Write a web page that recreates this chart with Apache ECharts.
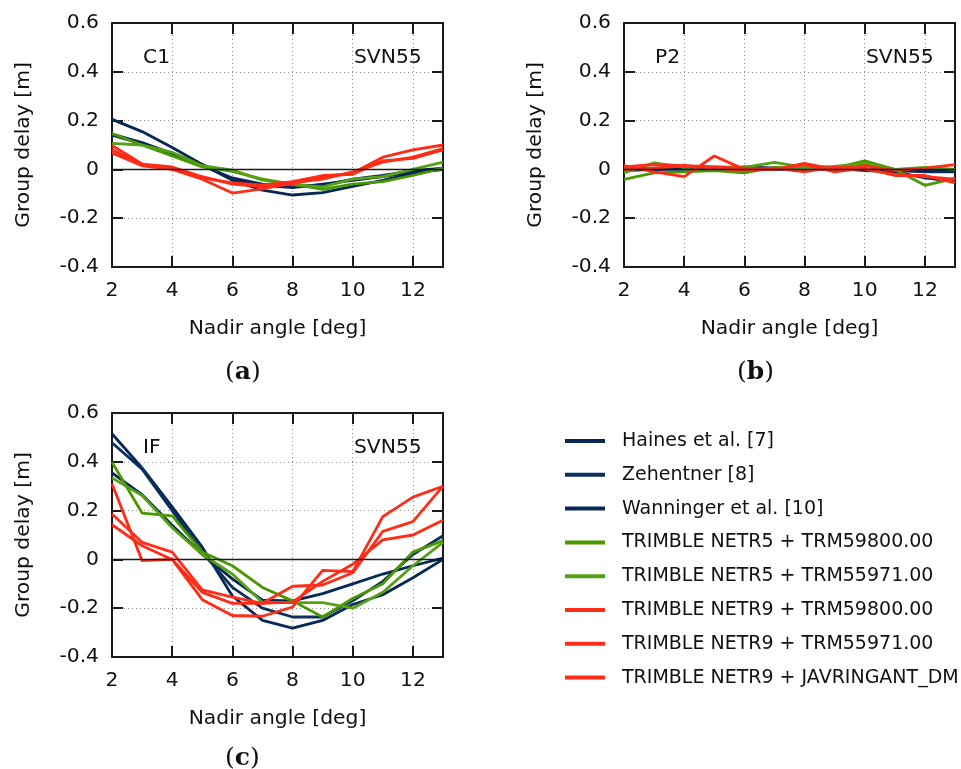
<!DOCTYPE html>
<html>
<head>
<meta charset="utf-8">
<script src="https://cdn.jsdelivr.net/npm/echarts@6/dist/echarts.min.js"></script>
<style>html,body{margin:0;padding:0;background:#fff;}#chart{width:961px;height:769px;}</style>
</head>
<body>
<div id="chart"></div>
<script>
// ---------- data ----------
const angles = [2, 3, 4, 5, 6, 7, 8, 9, 10, 11, 12, 13];
const seriesNames = [
  'Haines et al. [7]',
  'Zehentner [8]',
  'Wanninger et al. [10]',
  'TRIMBLE NETR5 + TRM59800.00',
  'TRIMBLE NETR5 + TRM55971.00',
  'TRIMBLE NETR9 + TRM59800.00',
  'TRIMBLE NETR9 + TRM55971.00',
  'TRIMBLE NETR9 + JAVRINGANT_DM'
];
const xTickLabels = ['2', '4', '6', '8', '10', '12'];
const yTickLabels = ['-0.4', '-0.2', '0', '0.2', '0.4', '0.6'];
const panelSignals = ['C1', 'P2', 'IF'];
const panelSatellite = 'SVN55';
const panelLetters = ['a', 'b', 'c'];

// Panel (a) C1
const c1Haines    = [0.205, 0.155, 0.09, 0.02, -0.045, -0.085, -0.105, -0.095, -0.07, -0.045, -0.015, 0.0];
const c1Zehentner = [0.14, 0.105, 0.06, 0.015, -0.035, -0.06, -0.07, -0.065, -0.04, -0.025, -0.005, 0.005];
const c1Wanninger = [0.145, 0.11, 0.065, 0.02, -0.04, -0.065, -0.075, -0.06, -0.045, -0.03, -0.01, 0.0];
const c1R5_59800  = [0.147, 0.1, 0.055, 0.01, -0.008, -0.04, -0.06, -0.082, -0.06, -0.05, -0.025, 0.005];
const c1R5_55971  = [0.107, 0.1, 0.07, 0.015, -0.003, -0.044, -0.062, -0.072, -0.04, -0.03, 0.0, 0.03];
const c1R9_59800  = [0.098, 0.022, 0.01, -0.03, -0.06, -0.07, -0.06, -0.03, -0.015, 0.05, 0.08, 0.1];
const c1R9_55971  = [0.067, 0.015, 0.0, -0.04, -0.097, -0.08, -0.055, -0.04, -0.01, 0.03, 0.05, 0.085];
const c1R9_JAV    = [0.08, 0.02, 0.005, -0.035, -0.055, -0.065, -0.05, -0.025, -0.02, 0.035, 0.045, 0.08];

// Panel (b) P2
const p2Haines    = [0.005, 0.005, 0.005, 0.0, 0.01, 0.005, 0.0, 0.005, -0.005, -0.01, -0.035, -0.05];
const p2Zehentner = [0.0, 0.0, 0.0, 0.005, 0.005, 0.005, 0.005, 0.0, 0.0, -0.005, -0.01, -0.01];
const p2Wanninger = [-0.005, 0.0, 0.005, 0.005, 0.0, 0.0, 0.0, 0.0, 0.0, -0.005, -0.005, -0.005];
const p2R5_59800  = [-0.041, -0.014, -0.01, -0.005, -0.014, 0.008, 0.005, 0.005, 0.035, 0.0, -0.065, -0.037];
const p2R5_55971  = [-0.014, 0.027, 0.008, 0.01, 0.008, 0.029, 0.008, 0.012, 0.025, 0.0, 0.008, 0.0];
const p2R9_59800  = [0.015, -0.01, -0.03, 0.055, 0.0, 0.0, 0.02, -0.01, 0.005, -0.025, -0.025, -0.055];
const p2R9_55971  = [0.01, 0.02, 0.015, 0.005, -0.005, 0.005, -0.01, 0.01, 0.0, -0.02, -0.03, -0.04];
const p2R9_JAV    = [0.0, 0.005, 0.015, 0.01, 0.005, 0.0, 0.025, 0.0, 0.015, -0.005, 0.005, 0.02];

// Panel (c) IF
const ifHaines    = [0.515, 0.375, 0.215, 0.05, -0.15, -0.25, -0.282, -0.25, -0.185, -0.145, -0.075, 0.0];
const ifZehentner = [0.478, 0.37, 0.2, 0.03, -0.115, -0.2, -0.236, -0.236, -0.17, -0.09, 0.02, 0.097];
const ifWanninger = [0.355, 0.265, 0.14, 0.02, -0.08, -0.167, -0.17, -0.14, -0.1, -0.06, -0.026, 0.005];
const ifR5_59800  = [0.398, 0.19, 0.178, 0.03, -0.026, -0.115, -0.17, -0.236, -0.16, -0.1, 0.03, 0.077];
const ifR5_55971  = [0.334, 0.262, 0.13, 0.02, -0.06, -0.177, -0.177, -0.177, -0.2, -0.135, -0.026, 0.07];
const ifR9_59800  = [0.31, -0.005, 0.0, -0.165, -0.23, -0.233, -0.195, -0.045, -0.05, 0.175, 0.255, 0.3];
const ifR9_55971  = [0.186, 0.07, 0.03, -0.125, -0.155, -0.18, -0.11, -0.105, -0.055, 0.115, 0.155, 0.3];
const ifR9_JAV    = [0.142, 0.056, 0.0, -0.135, -0.18, -0.18, -0.175, -0.09, -0.02, 0.08, 0.1, 0.16];

const panelData = [
  [c1Haines, c1Zehentner, c1Wanninger, c1R5_59800, c1R5_55971, c1R9_59800, c1R9_55971, c1R9_JAV],
  [p2Haines, p2Zehentner, p2Wanninger, p2R5_59800, p2R5_55971, p2R9_59800, p2R9_55971, p2R9_JAV],
  [ifHaines, ifZehentner, ifWanninger, ifR5_59800, ifR5_55971, ifR9_59800, ifR9_55971, ifR9_JAV]
];

// ---------- style ----------
const colors = ['#062856', '#0d2f5e', '#062856', '#4a9800', '#54a114', '#ff2b17', '#ff2e1a', '#ff2b17'];
const FONT = 'DejaVu Sans';
const AXFS = 20.3;
const grids = [
  { left: 112, top: 23, width: 331, height: 244 },
  { left: 624, top: 23, width: 331, height: 244 },
  { left: 112, top: 413, width: 331, height: 244 }
];
const letterOffsets = [337, 337, 333];

const xAxes = [], yAxes = [], series = [], graphics = [];
grids.forEach((g, gi) => {
  const frame = { show: true, onZero: false, lineStyle: { color: '#1a1a1a', width: 2 } };
  const tick = { show: true, inside: true, length: 11, lineStyle: { color: '#1a1a1a', width: 2 } };
  xAxes.push({
    gridIndex: gi, type: 'value', position: 'bottom', min: 2, max: 13, interval: 2,
    axisLine: frame, axisTick: tick,
    axisLabel: { show: true, fontFamily: FONT, fontSize: AXFS, color: '#111', margin: 14, showMaxLabel: false,
      formatter: v => xTickLabels.includes(String(v)) ? String(v) : '' },
    splitLine: { show: true, lineStyle: { color: '#8a8a8a', type: [1, 3], width: 1 } },
    name: 'Nadir angle [deg]', nameLocation: 'middle', nameGap: 52,
    nameTextStyle: { fontFamily: FONT, fontSize: AXFS, color: '#111' }
  });
  xAxes.push({
    gridIndex: gi, type: 'value', position: 'top', min: 2, max: 13, interval: 2,
    axisLine: frame, axisTick: tick, axisLabel: { show: false }, splitLine: { show: false }
  });
  yAxes.push({
    gridIndex: gi, type: 'value', position: 'left', min: -0.4, max: 0.6, interval: 0.2,
    axisLine: frame, axisTick: tick,
    axisLabel: { show: true, fontFamily: FONT, fontSize: AXFS, color: '#111', margin: 13,
      formatter: v => { const s = String(Math.round(v * 10) / 10); return yTickLabels.includes(s) ? s : ''; } },
    splitLine: { show: true, lineStyle: { color: '#8a8a8a', type: [1, 3], width: 1 } },
    name: 'Group delay [m]', nameLocation: 'middle', nameGap: 78,
    nameTextStyle: { fontFamily: FONT, fontSize: AXFS, color: '#111' }
  });
  yAxes.push({
    gridIndex: gi, type: 'value', position: 'right', min: -0.4, max: 0.6, interval: 0.2,
    axisLine: frame, axisTick: tick, axisLabel: { show: false }, splitLine: { show: false }
  });

  panelData[gi].forEach((arr, si) => {
    const s = {
      name: seriesNames[si], type: 'line', xAxisIndex: gi * 2, yAxisIndex: gi * 2,
      data: angles.map((a, k) => [a, arr[k]]),
      showSymbol: false, symbol: 'none', animation: false, z: 3,
      lineStyle: { color: colors[si], width: 2.8 },
      itemStyle: { color: colors[si] }
    };
    if (si === 0) {
      s.markLine = {
        silent: true, symbol: ['none', 'none'], animation: false,
        label: { show: false },
        lineStyle: { color: '#1a1a1a', width: 1.4, type: 'solid' },
        data: [{ yAxis: 0 }]
      };
    }
    series.push(s);
  });

  // panel annotations
  graphics.push({
    type: 'text', left: g.left + 31, top: g.top + 25,
    style: { text: panelSignals[gi], fontFamily: FONT, fontSize: AXFS, fill: '#111' }
  });
  graphics.push({
    type: 'text', left: g.left + 242, top: g.top + 25,
    style: { text: panelSatellite, fontFamily: FONT, fontSize: AXFS, fill: '#111' }
  });
  graphics.push({
    type: 'text', left: g.left + 113, top: g.top + letterOffsets[gi],
    style: {
      text: '{p|(}{b|' + panelLetters[gi] + '}{p|)}',
      rich: {
        p: { fontFamily: 'DejaVu Serif', fontSize: 25, fill: '#111' },
        b: { fontFamily: 'DejaVu Serif', fontSize: 25, fontWeight: 'bold', fill: '#111' }
      }
    }
  });
});

const chart = echarts.init(document.getElementById('chart'), null, { renderer: 'canvas' });
chart.setOption({
  animation: false,
  backgroundColor: '#fff',
  grid: grids.map(g => Object.assign({ containLabel: false }, g)),
  xAxis: xAxes,
  yAxis: yAxes,
  legend: {
    data: seriesNames, orient: 'vertical', left: 565, top: 431, padding: 0,
    icon: 'rect', itemWidth: 40, itemHeight: 4, itemGap: 13.8,
    textStyle: { fontFamily: FONT, fontSize: 19, color: '#111', lineHeight: 20, padding: [0, 0, 0, 12] },
    selectedMode: false
  },
  graphic: graphics,
  series: series
});
</script>
</body>
</html>
